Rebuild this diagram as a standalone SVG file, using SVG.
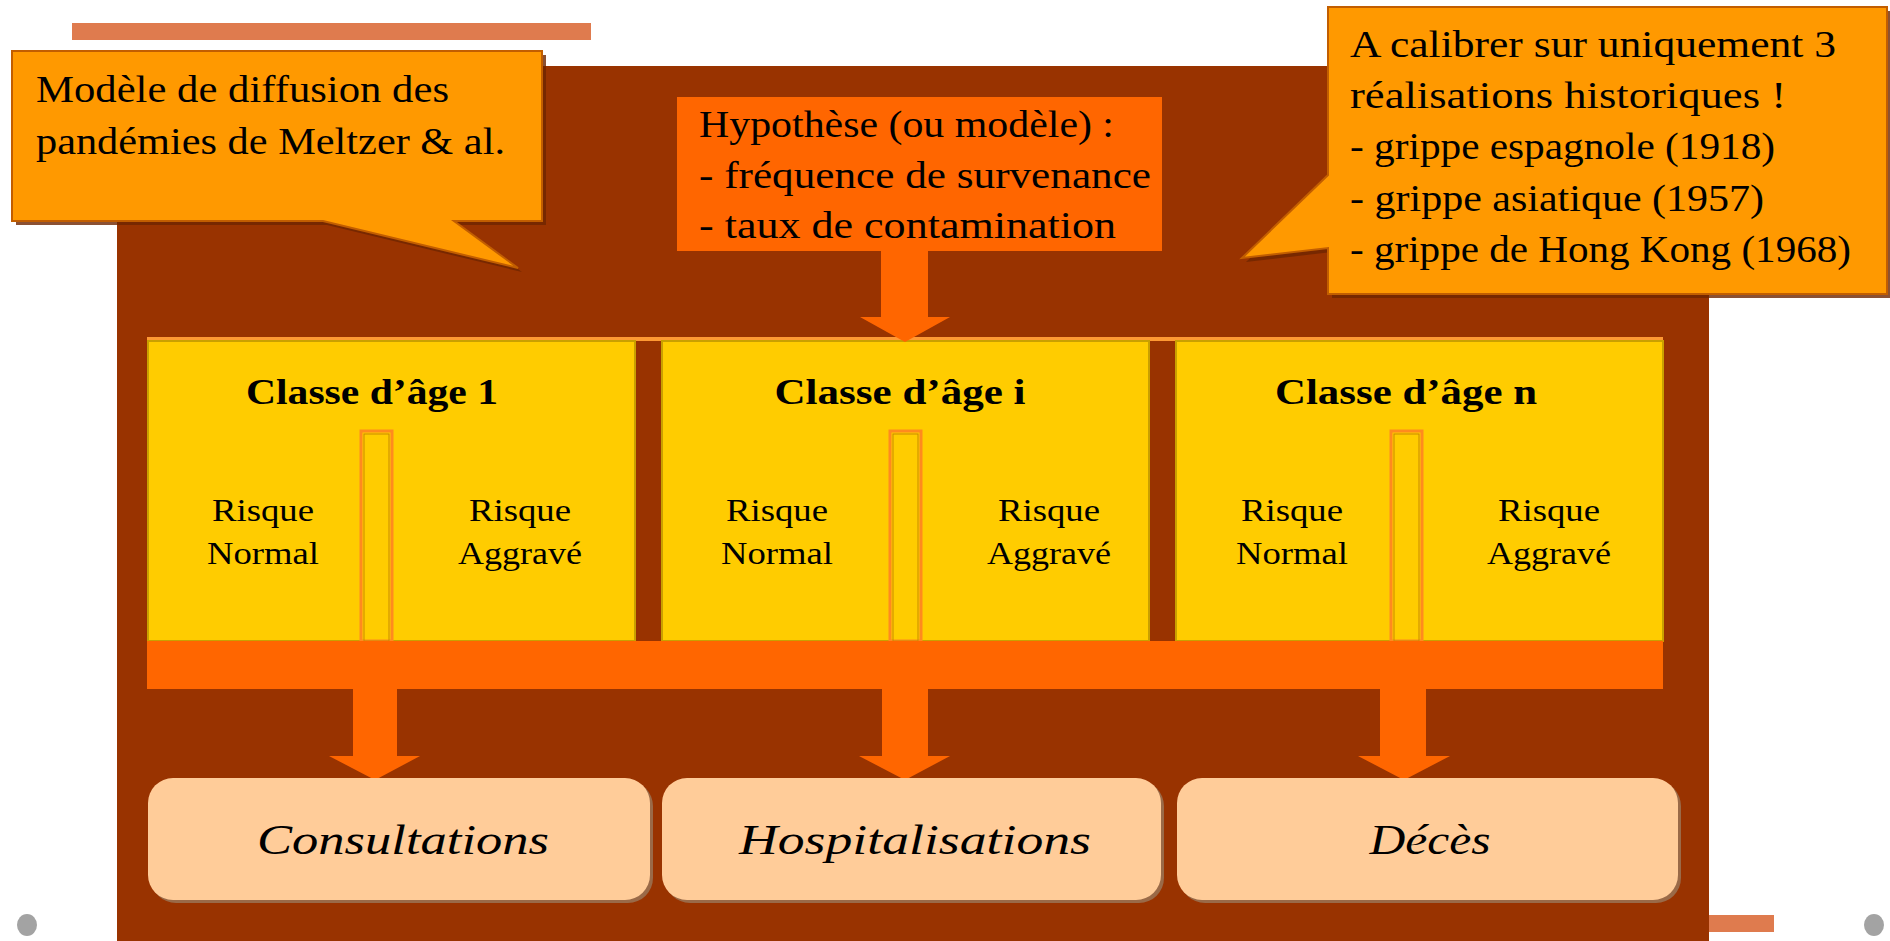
<svg xmlns="http://www.w3.org/2000/svg" width="1890" height="941" viewBox="0 0 1890 941">
<style>
  .t { font-family: "Liberation Serif", "DejaVu Serif", serif; fill: #000; }
  .bub { font-size: 37px; }
  .cls { font-size: 36px; font-weight: bold; }
  .rk { font-size: 32px; }
  .out { font-size: 42px; font-style: italic; }
  .bubble { fill: #FF9900; stroke: #C25E00; stroke-width: 2; }
  .shadow { fill: #6E2500; opacity: 0.8; }
  .arrow { fill: #FF6600; }
  .ybox { fill: #FFCC00; stroke: #C9A000; stroke-width: 2; }
  .sep { fill: #FFCC00; stroke: #FF8A1F; stroke-width: 3; }
  .sepin { fill: none; stroke: #C98A00; stroke-width: 1; }
  .outbox { fill: #FFCC99; }
  .outsh { fill: #9A6A48; }
</style>
<rect x="0" y="0" width="1890" height="941" fill="#FFFFFF"/>
<g id="background">
  <rect x="72" y="23" width="519" height="17" fill="#DF7B4E"/>
  <rect x="117" y="66" width="1592" height="875" fill="#993300"/>
  <rect x="1709" y="915" width="65" height="17" fill="#DF7B4E"/>
  <ellipse cx="27" cy="925" rx="10" ry="11" fill="#A3A3A3"/>
  <ellipse cx="1874" cy="925" rx="10" ry="11" fill="#A3A3A3"/>
</g>
<g id="bubble-left">
  <path class="shadow" d="M16,55 H546 V225 H458 L522,272 L327,225 H16 Z"/>
  <path class="bubble" d="M12,51 H542 V221 H454 L518,268 L323,221 H12 Z"/>
  <text class="t bub" x="36" y="102" textLength="413" lengthAdjust="spacingAndGlyphs">Modèle de diffusion des</text>
  <text class="t bub" x="36" y="154" textLength="469" lengthAdjust="spacingAndGlyphs">pandémies de Meltzer &amp; al.</text>
</g>
<g id="hypothese">
  <rect x="677" y="97" width="485" height="154" fill="#FF6600"/>
  <text class="t bub" x="699" y="137" textLength="415" lengthAdjust="spacingAndGlyphs">Hypothèse (ou modèle) :</text>
  <text class="t bub" x="699" y="188" textLength="452" lengthAdjust="spacingAndGlyphs">- fréquence de survenance</text>
  <text class="t bub" x="699" y="238" textLength="417" lengthAdjust="spacingAndGlyphs">- taux de contamination</text>
</g>
<g id="bubble-right">
  <path class="shadow" d="M1332,11 H1891 V298 H1332 V252 L1246,262 L1332,179 Z"/>
  <path class="bubble" d="M1328,7 H1887 V294 H1328 V248 L1242,258 L1328,175 Z"/>
  <text class="t bub" x="1350" y="57" textLength="486" lengthAdjust="spacingAndGlyphs">A calibrer sur uniquement 3</text>
  <text class="t bub" x="1350" y="108" textLength="436" lengthAdjust="spacingAndGlyphs">réalisations historiques !</text>
  <text class="t bub" x="1350" y="159" textLength="425" lengthAdjust="spacingAndGlyphs">- grippe espagnole (1918)</text>
  <text class="t bub" x="1350" y="211" textLength="414" lengthAdjust="spacingAndGlyphs">- grippe asiatique (1957)</text>
  <text class="t bub" x="1350" y="262" textLength="501" lengthAdjust="spacingAndGlyphs">- grippe de Hong Kong (1968)</text>
</g>
<g id="age-classes">
  <rect x="147" y="337" width="1516" height="4" fill="#FF9933"/>
  <g id="classe-1">
    <rect class="ybox" x="148" y="341" width="487" height="300"/>
    <rect class="sep" x="361" y="431" width="31" height="210"/>
    <rect class="sepin" x="364" y="434" width="25" height="207"/>
    <text class="t cls" x="372" y="404" text-anchor="middle" textLength="252" lengthAdjust="spacingAndGlyphs">Classe d’âge 1</text>
    <text class="t rk" x="263" y="521" text-anchor="middle" textLength="102" lengthAdjust="spacingAndGlyphs">Risque</text>
    <text class="t rk" x="263" y="564" text-anchor="middle" textLength="112" lengthAdjust="spacingAndGlyphs">Normal</text>
    <text class="t rk" x="520" y="521" text-anchor="middle" textLength="102" lengthAdjust="spacingAndGlyphs">Risque</text>
    <text class="t rk" x="520" y="564" text-anchor="middle" textLength="124" lengthAdjust="spacingAndGlyphs">Aggravé</text>
  </g>
  <g id="classe-i">
    <rect class="ybox" x="662" y="341" width="487" height="300"/>
    <rect class="sep" x="890" y="431" width="31" height="210"/>
    <rect class="sepin" x="893" y="434" width="25" height="207"/>
    <text class="t cls" x="900" y="404" text-anchor="middle" textLength="251" lengthAdjust="spacingAndGlyphs">Classe d’âge i</text>
    <text class="t rk" x="777" y="521" text-anchor="middle" textLength="102" lengthAdjust="spacingAndGlyphs">Risque</text>
    <text class="t rk" x="777" y="564" text-anchor="middle" textLength="112" lengthAdjust="spacingAndGlyphs">Normal</text>
    <text class="t rk" x="1049" y="521" text-anchor="middle" textLength="102" lengthAdjust="spacingAndGlyphs">Risque</text>
    <text class="t rk" x="1049" y="564" text-anchor="middle" textLength="124" lengthAdjust="spacingAndGlyphs">Aggravé</text>
  </g>
  <g id="classe-n">
    <rect class="ybox" x="1176" y="341" width="487" height="300"/>
    <rect class="sep" x="1391" y="431" width="31" height="210"/>
    <rect class="sepin" x="1394" y="434" width="25" height="207"/>
    <text class="t cls" x="1406" y="404" text-anchor="middle" textLength="262" lengthAdjust="spacingAndGlyphs">Classe d’âge n</text>
    <text class="t rk" x="1292" y="521" text-anchor="middle" textLength="102" lengthAdjust="spacingAndGlyphs">Risque</text>
    <text class="t rk" x="1292" y="564" text-anchor="middle" textLength="112" lengthAdjust="spacingAndGlyphs">Normal</text>
    <text class="t rk" x="1549" y="521" text-anchor="middle" textLength="102" lengthAdjust="spacingAndGlyphs">Risque</text>
    <text class="t rk" x="1549" y="564" text-anchor="middle" textLength="124" lengthAdjust="spacingAndGlyphs">Aggravé</text>
  </g>
  <rect id="bar" x="147" y="641" width="1516" height="48" fill="#FF6600"/>
</g>
<g id="connectors">
  <polygon class="arrow" points="881,251 928,251 928,317 950,317 905,342 860,317 881,317"/>
  <polygon class="arrow" points="353,687 397,687 397,756 420,756 375,780 329,756 353,756"/>
  <polygon class="arrow" points="882,687 928,687 928,756 950,756 905,780 859,756 882,756"/>
  <polygon class="arrow" points="1380,687 1426,687 1426,756 1450,756 1404,780 1358,756 1380,756"/>
</g>
<g id="out-consultations">
  <rect class="outsh" x="151" y="781" width="502" height="122" rx="25"/>
  <rect class="outbox" x="148" y="778" width="502" height="122" rx="25"/>
  <text class="t out" x="403" y="854" text-anchor="middle" textLength="292" lengthAdjust="spacingAndGlyphs">Consultations</text>
</g>
<g id="out-hospitalisations">
  <rect class="outsh" x="665" y="781" width="499" height="122" rx="25"/>
  <rect class="outbox" x="662" y="778" width="499" height="122" rx="25"/>
  <text class="t out" x="915" y="854" text-anchor="middle" textLength="352" lengthAdjust="spacingAndGlyphs">Hospitalisations</text>
</g>
<g id="out-deces">
  <rect class="outsh" x="1180" y="781" width="501" height="122" rx="25"/>
  <rect class="outbox" x="1177" y="778" width="501" height="122" rx="25"/>
  <text class="t out" x="1430" y="854" text-anchor="middle" textLength="121" lengthAdjust="spacingAndGlyphs">Décès</text>
</g>
</svg>
